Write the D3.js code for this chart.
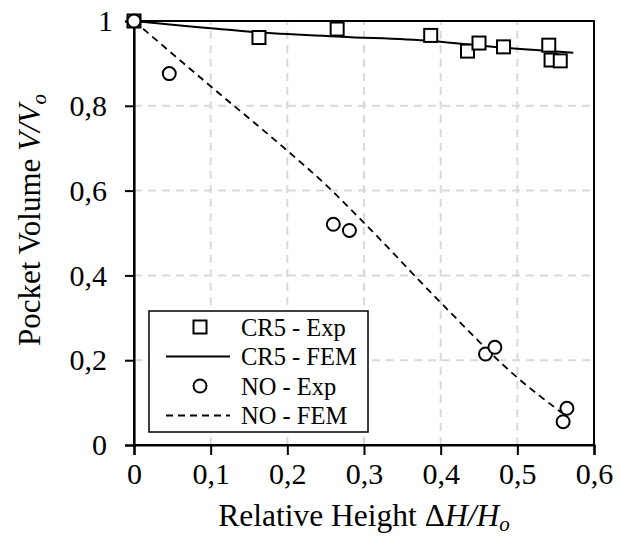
<!DOCTYPE html>
<html>
<head>
<meta charset="utf-8">
<script src="https://cdn.jsdelivr.net/npm/d3@7"></script>
<style>
  html, body { margin: 0; padding: 0; background: #fff; }
  svg { display: block; font-family: "Liberation Serif", "DejaVu Serif", serif; }
</style>
</head>
<body>
<svg id="chart" width="621" height="538"></svg>
<script>
// ---- data ----
const xTicks = [0, 0.1, 0.2, 0.3, 0.4, 0.5, 0.6];
const xTickLabels = ["0", "0,1", "0,2", "0,3", "0,4", "0,5", "0,6"];
const yTicks = [0, 0.2, 0.4, 0.6, 0.8, 1];
const yTickLabels = ["0", "0,2", "0,4", "0,6", "0,8", "1"];

const cr5ExpX = [0, 0.163, 0.265, 0.387, 0.435, 0.450, 0.482, 0.541, 0.544, 0.556];
const cr5ExpY = [1, 0.961, 0.981, 0.966, 0.929, 0.948, 0.939, 0.943, 0.908, 0.906];

const cr5FemX = [0, 0.05, 0.1, 0.155, 0.27, 0.387, 0.482, 0.573];
const cr5FemY = [1, 0.991, 0.983, 0.974, 0.963, 0.953, 0.937, 0.925];

const noExpX = [0, 0.046, 0.260, 0.281, 0.4585, 0.4707, 0.5647, 0.5597];
const noExpY = [1, 0.876, 0.5205, 0.506, 0.2146, 0.2304, 0.0866, 0.0550];

const noFemX = [0, 0.1, 0.2, 0.25, 0.3, 0.4, 0.5, 0.558];
const noFemY = [1, 0.846, 0.694, 0.614, 0.524, 0.336, 0.159, 0.076];

const legendLabels = ["CR5 - Exp", "CR5 - FEM", "NO - Exp", "NO - FEM"];

// ---- layout ----
const svg = d3.select("#chart");
const x = d3.scaleLinear().domain([0, 0.6]).range([134, 594]);
const y = d3.scaleLinear().domain([0, 1]).range([445, 21]);

// grid
const grid = svg.append("g");
grid.selectAll("line.gx").data(xTicks.filter(d => d > 0 && d < 0.6)).enter()
  .append("line")
  .attr("x1", d => x(d)).attr("x2", d => x(d))
  .attr("y1", y(0)).attr("y2", y(1))
  .attr("stroke", "#d9d9d9").attr("stroke-width", 2).attr("stroke-dasharray", "8,6");
grid.selectAll("line.gy").data(yTicks.filter(d => d > 0 && d < 1)).enter()
  .append("line")
  .attr("y1", d => y(d)).attr("y2", d => y(d))
  .attr("x1", x(0)).attr("x2", x(0.6))
  .attr("stroke", "#d9d9d9").attr("stroke-width", 2).attr("stroke-dasharray", "8,6");

// frame
svg.append("rect")
  .attr("x", x(0)).attr("y", y(1))
  .attr("width", x(0.6) - x(0)).attr("height", y(0) - y(1))
  .attr("fill", "none").attr("stroke", "#000").attr("stroke-width", 2);

// axes
const xAxis = d3.axisBottom(x).tickValues(xTicks)
  .tickFormat((d, i) => xTickLabels[i]).tickSize(10).tickPadding(8);
const gx = svg.append("g").attr("transform", `translate(0,${y(0)})`).call(xAxis);
gx.attr("font-family", "Liberation Serif");
gx.select(".domain").attr("stroke-width", 2.2);
gx.selectAll(".tick line").attr("stroke-width", 2);
gx.selectAll(".tick text").attr("font-size", 30).attr("font-family", "Liberation Serif").attr("fill", "#000");

const yAxis = d3.axisLeft(y).tickValues(yTicks)
  .tickFormat((d, i) => yTickLabels[i]).tickSize(9).tickPadding(18);
const gy = svg.append("g").attr("transform", `translate(${x(0)},0)`).call(yAxis);
gy.attr("font-family", "Liberation Serif");
gy.select(".domain").attr("stroke-width", 2.2);
gy.selectAll(".tick line").attr("stroke-width", 2);
gy.selectAll(".tick text").attr("font-size", 30).attr("font-family", "Liberation Serif").attr("fill", "#000");
gy.selectAll(".tick text").filter(d => d === 1).attr("dx", 6);

// lines
const line = d3.line().x(d => x(d[0])).y(d => y(d[1])).curve(d3.curveMonotoneX);
svg.append("path")
  .datum(cr5FemX.map((v, i) => [v, cr5FemY[i]]))
  .attr("d", line).attr("fill", "none").attr("stroke", "#000").attr("stroke-width", 2);
svg.append("path")
  .datum(noFemX.map((v, i) => [v, noFemY[i]]))
  .attr("d", line).attr("fill", "none").attr("stroke", "#000").attr("stroke-width", 1.8)
  .attr("stroke-dasharray", "7,5");

// markers
const sq = 13;
svg.append("g").selectAll("rect").data(cr5ExpX.map((v, i) => [v, cr5ExpY[i]])).enter()
  .append("rect")
  .attr("x", d => x(d[0]) - sq / 2).attr("y", d => y(d[1]) - sq / 2)
  .attr("width", sq).attr("height", sq)
  .attr("fill", "#fff").attr("stroke", "#000").attr("stroke-width", 2);
svg.append("g").selectAll("circle").data(noExpX.map((v, i) => [v, noExpY[i]])).enter()
  .append("circle")
  .attr("cx", d => x(d[0])).attr("cy", d => y(d[1])).attr("r", 6.5)
  .attr("fill", "#fff").attr("stroke", "#000").attr("stroke-width", 2);

// legend
const lg = svg.append("g");
lg.append("rect").attr("x", 149).attr("y", 311).attr("width", 219).attr("height", 121)
  .attr("fill", "#fff").attr("stroke", "#000").attr("stroke-width", 1.5);
const rowY = [327, 356.5, 386, 415.5];
lg.append("rect").attr("x", 200 - 6.5).attr("y", rowY[0] - 6.5).attr("width", 13).attr("height", 13)
  .attr("fill", "#fff").attr("stroke", "#000").attr("stroke-width", 2);
lg.append("line").attr("x1", 166).attr("x2", 230).attr("y1", rowY[1]).attr("y2", rowY[1])
  .attr("stroke", "#000").attr("stroke-width", 2);
lg.append("circle").attr("cx", 200).attr("cy", rowY[2]).attr("r", 6.5)
  .attr("fill", "#fff").attr("stroke", "#000").attr("stroke-width", 2);
lg.append("line").attr("x1", 166).attr("x2", 230).attr("y1", rowY[3]).attr("y2", rowY[3])
  .attr("stroke", "#000").attr("stroke-width", 1.8).attr("stroke-dasharray", "7,5");
lg.selectAll("text").data(legendLabels).enter().append("text")
  .attr("x", 241).attr("y", (d, i) => rowY[i] + 8.5)
  .attr("font-size", 24.5).attr("fill", "#000").text(d => d);

// axis titles
const xt = svg.append("text").attr("x", x(0.3)).attr("y", 526)
  .attr("text-anchor", "middle").attr("font-size", 31.5).attr("fill", "#000");
xt.append("tspan").text("Relative Height Δ");
xt.append("tspan").attr("font-style", "italic").text("H/H");
xt.append("tspan").attr("font-style", "italic").attr("font-size", 21).attr("dy", 5).text("o");

const yt = svg.append("text").attr("transform", "translate(40,220) rotate(-90)")
  .attr("text-anchor", "middle").attr("font-size", 31).attr("fill", "#000");
yt.append("tspan").text("Pocket Volume ");
yt.append("tspan").attr("font-style", "italic").text("V/V");
yt.append("tspan").attr("font-style", "italic").attr("font-size", 21).attr("dy", 6).text("o");
</script>
</body>
</html>
